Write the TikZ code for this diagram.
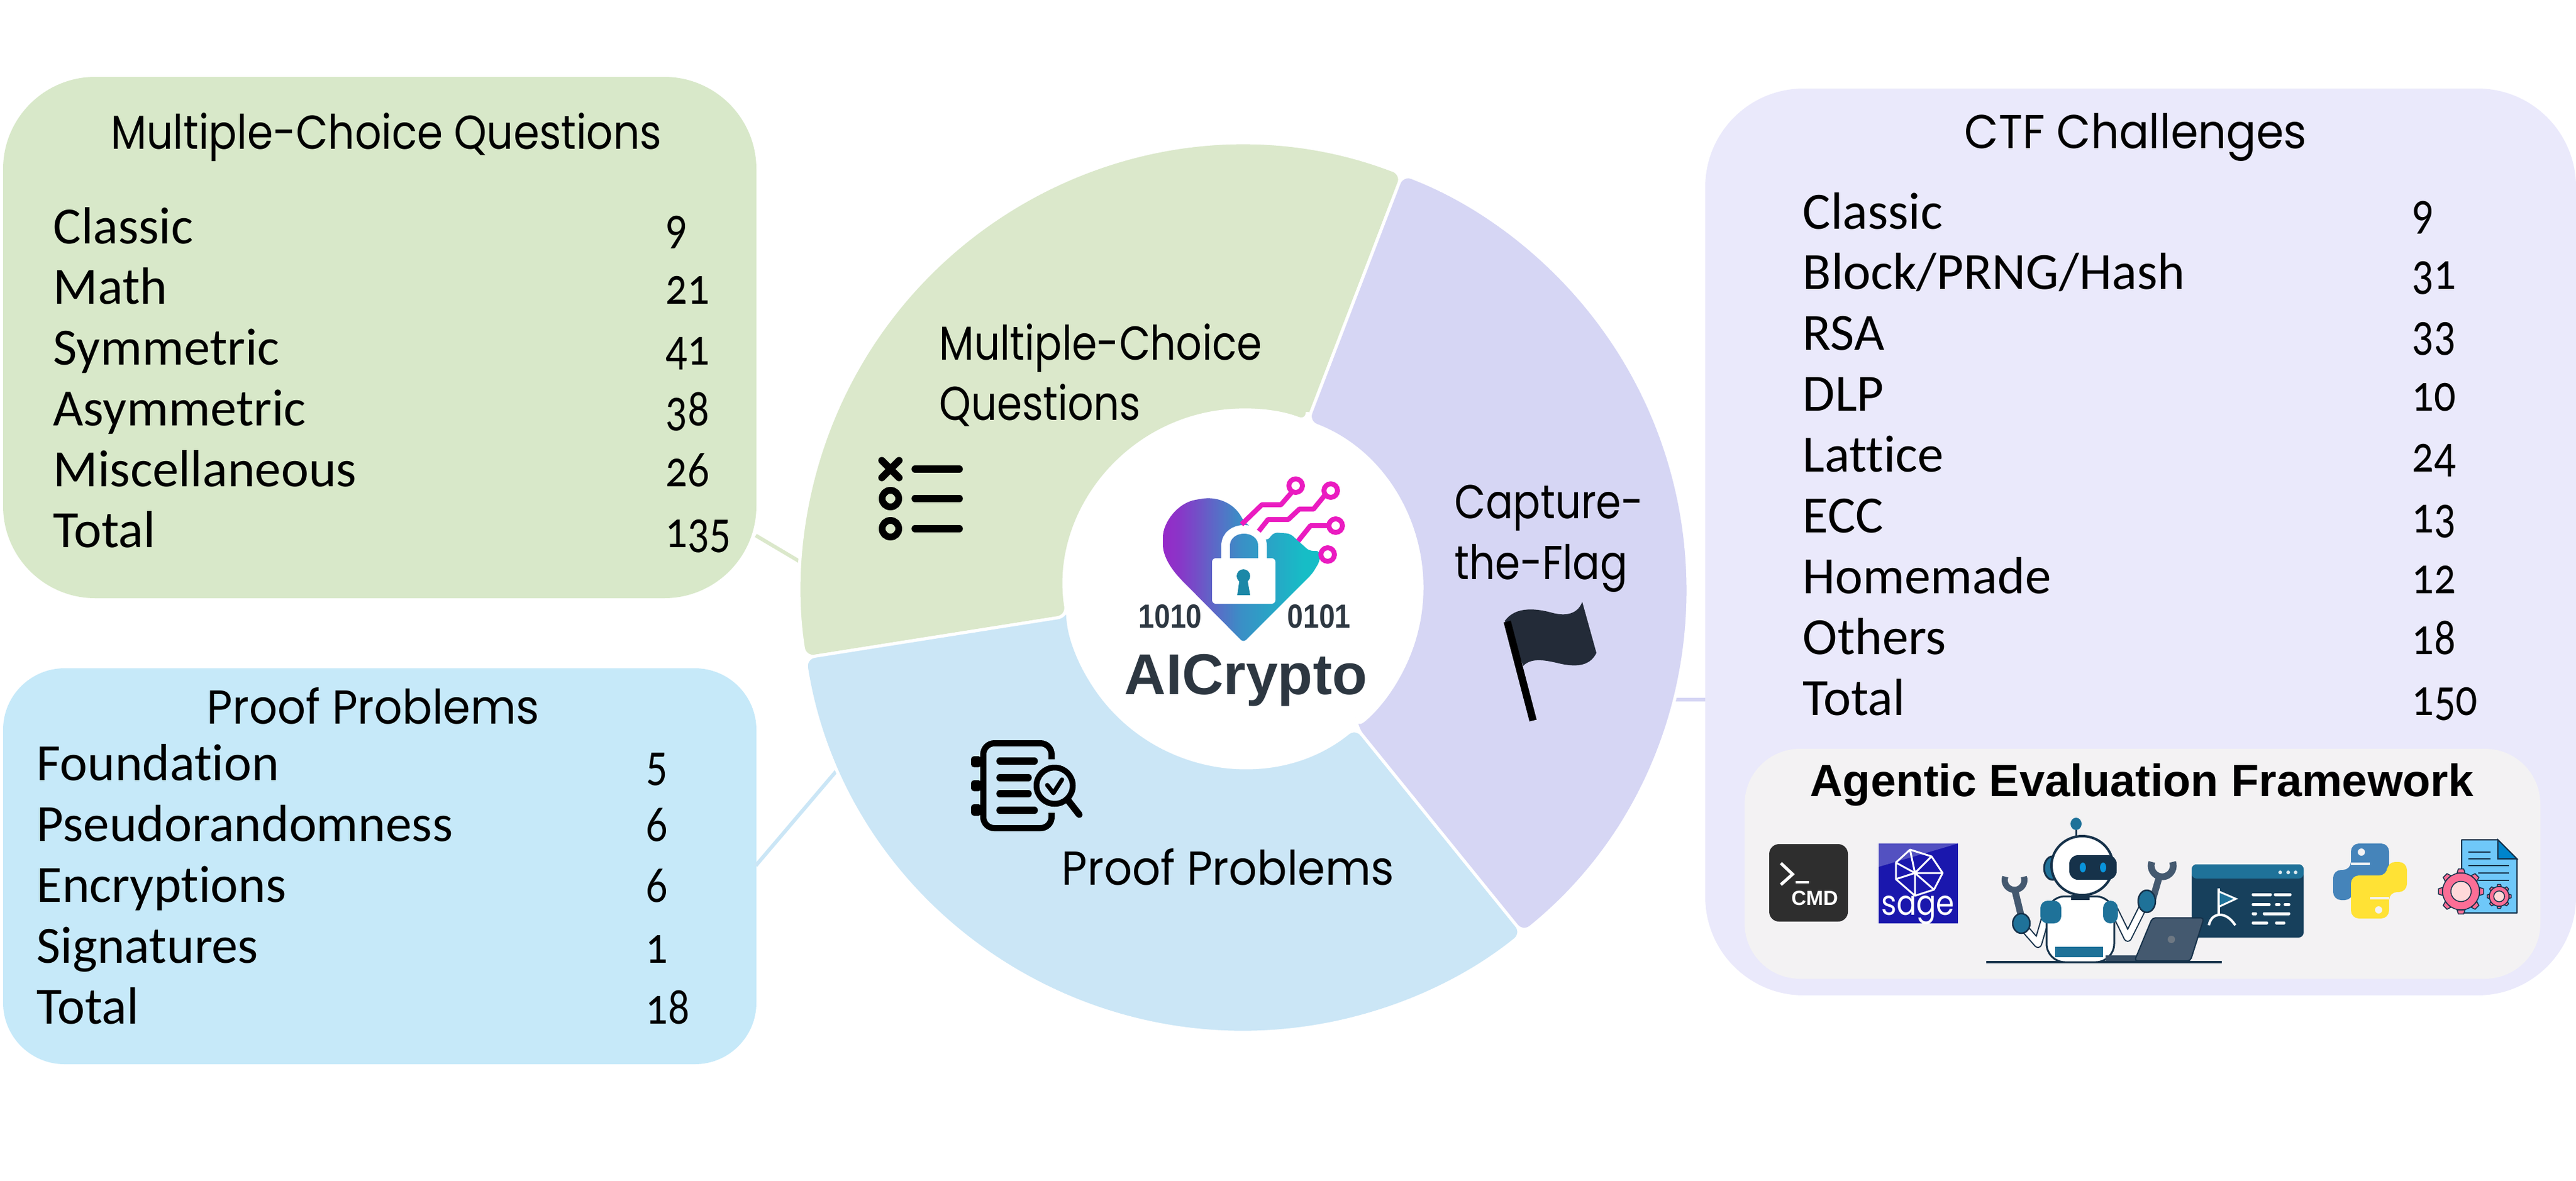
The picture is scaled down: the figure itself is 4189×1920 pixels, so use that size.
\documentclass[tikz,border=0pt]{standalone}
\usepackage{fontspec}
\usetikzlibrary{calc}
\setmainfont{Carlito}[Numbers=OldStyle,Ligatures=NoCommon]
\newfontfamily\numf{Carlito}[Numbers=OldStyle,FakeStretch=0.82]
\newfontfamily\dispa{Poppins}[FakeStretch=0.85]
\newfontfamily\dispb{Poppins}[FakeStretch=0.876]
\newfontfamily\dispc{Poppins}[FakeStretch=0.93]
\newfontfamily\heavy{Liberation Sans Bold}
\newfontfamily\heavyn{Liberation Sans Bold}[FakeStretch=0.85]
\definecolor{secG}{HTML}{DBE8CB}
\definecolor{secB}{HTML}{CBE6F6}
\definecolor{secP}{HTML}{D6D6F4}
\definecolor{boxG}{HTML}{D8E8C9}
\definecolor{boxB}{HTML}{C6E9F9}
\definecolor{boxP}{HTML}{EAE9FB}
\definecolor{boxF}{HTML}{F3F2F3}
\definecolor{inkD}{HTML}{2D3741}
\definecolor{flagD}{HTML}{232B38}
\definecolor{logoA}{HTML}{C006CB}
\definecolor{logoB}{HTML}{8A35C8}
\definecolor{logoM}{HTML}{3A8FC6}
\definecolor{logoC}{HTML}{16BDC6}
\definecolor{wire}{HTML}{EA1BC0}
\definecolor{navy}{HTML}{17405C}
\definecolor{navyD}{HTML}{16324A}
\definecolor{teal}{HTML}{1F7299}
\definecolor{slate}{HTML}{44596F}
\definecolor{pyB}{HTML}{4584BA}
\definecolor{pyY}{HTML}{FFE235}
\definecolor{pageB}{HTML}{6FC8F9}
\definecolor{gearP}{HTML}{FB6E96}
\definecolor{sageB}{HTML}{1A17AD}
\pgfdeclarehorizontalshading{logograd}{100bp}{color(0bp)=(logoA); color(8bp)=(logoA); color(30bp)=(logoB); color(50bp)=(logoM); color(70bp)=(logoC); color(100bp)=(logoC)}
\tikzset{
  bodytxt/.style={anchor=base west,inner sep=0pt,font=\fontsize{24.2}{24.2}\selectfont},
  numtxt/.style={anchor=base west,inner sep=0pt,font=\numf\fontsize{24.2}{24.2}\selectfont},
  disptxt/.style={inner sep=0pt,font=\dispa\fontsize{22}{22}\selectfont},
  disptxtc/.style={inner sep=0pt,font=\dispc\fontsize{22}{22}\selectfont},
  sector/.style={draw=white,line width=0.5mm,rounded corners=1.6mm},
  link/.style={line width=0.6mm},
  stroke/.style={line width=1.15mm,line cap=round},
  wirel/.style={draw=wire,line width=0.8mm,line join=round},
  wirer/.style={draw=wire,line width=0.8mm,fill=white},
  gearbit/.style={fill=gearP,draw=navyD,line width=0.15mm},
}
\begin{document}
\begin{tikzpicture}[x=0.1mm,y=-0.1mm]
\useasboundingbox (0,0) rectangle (4189,1920);

% ---- panels
\node[draw=none,fill=boxG,rounded corners=15mm,minimum width=122.5mm,minimum height=84.8mm,inner sep=0pt] (mcqbox) at (617.5,549) {};
\node[draw=none,fill=boxB,rounded corners=10mm,minimum width=122.5mm,minimum height=64.4mm,inner sep=0pt] (proofbox) at (617.5,1409) {};
\node[draw=none,fill=boxP,rounded corners=16mm,minimum width=141.6mm,minimum height=147.5mm,inner sep=0pt] (ctfbox) at (3481,881.5) {};
\node[draw=none,fill=boxF,rounded corners=9mm,minimum width=129.4mm,minimum height=37.4mm,inner sep=0pt] (agentbox) at (3484,1405) {};

% ---- connectors
\coordinate (gA) at (1229,871); \coordinate (gB) at (1315,922);
\coordinate (bA) at (1229,1408); \coordinate (bB) at (1372,1240);
\coordinate (pA) at (2710,1138); \coordinate (pB) at (2773,1138);
\draw[link,secG] (gA) -- (gB);
\draw[link,secB] (bA) -- (bB);
\draw[link,secP] (pA) -- (pB);

% ---- donut
\coordinate (ctr) at (2022,957);
\fill[secG,sector] ($(ctr)+(-69:290)$) -- ($(ctr)+(-69:722)$) arc[start angle=-69,end angle=-189,radius=722] -- ($(ctr)+(-189:290)$) arc[start angle=-189,end angle=-69,radius=290] -- cycle;
\fill[secB,sector] ($(ctr)+(-189:290)$) -- ($(ctr)+(-189:722)$) arc[start angle=-189,end angle=-309,radius=722] -- ($(ctr)+(-309:290)$) arc[start angle=-309,end angle=-189,radius=290] -- cycle;
\fill[secP,sector] ($(ctr)+(-309:290)$) -- ($(ctr)+(-309:722)$) arc[start angle=-309,end angle=-429,radius=722] -- ($(ctr)+(-429:290)$) arc[start angle=-429,end angle=-309,radius=290] -- cycle;

% ---- sector labels
\node[disptxt,anchor=base west] (l1a) at (1527,585) {Multiple-Choice};
\node[disptxt,anchor=base west] (l1b) at (1527,683) {Questions};
\node[disptxt,anchor=base west] (l2a) at (2365,843) {Capture-};
\node[disptxt,anchor=base west] (l2b) at (2365,942) {the-Flag};
\node[disptxtc,anchor=base west] (l3) at (1726,1439) {Proof Problems};

% ---- list icon
\draw[stroke] (1434,749) -- (1462,777) (1462,749) -- (1434,777);
\draw[stroke] (1488,763) -- (1560,763) (1488,811) -- (1560,811) (1488,860) -- (1560,860);
\draw[line width=1.1mm] (1448,811) circle[radius=13.5] (1448,860) circle[radius=13.5];

% ---- flag icon
\fill[flagD] (2447,1010) .. controls (2465,985) and (2500,990) .. (2525,997) .. controls (2545,1002) and (2565,1000) .. (2573,979) -- (2596,1062) .. controls (2585,1085) and (2560,1085) .. (2535,1079) .. controls (2510,1073) and (2490,1070) .. (2477,1083) -- cycle;
\draw[line width=1.2mm] (2451,1011) -- (2493,1172);

% ---- proof icon
\draw[line width=1mm,line cap=butt,rounded corners=1.8mm] (1710,1235) -- (1710,1209) -- (1599,1209) -- (1599,1347) -- (1710,1347) -- (1710,1322);
\fill[rounded corners=0.5mm] (1579,1230) rectangle (1596,1248) (1579,1269) rectangle (1596,1287) (1579,1308) rectangle (1596,1327);
\draw[stroke] (1626,1238) -- (1682,1238) (1626,1265) -- (1672,1265) (1626,1291) -- (1672,1291) (1626,1318) -- (1682,1318);
\draw[line width=0.95mm] (1715,1278) circle[radius=29.5];
\draw[line width=1.1mm,line cap=round] (1737,1302) -- (1755,1325);
\draw[line width=0.7mm,line join=round,line cap=round] (1703,1277) -- (1713,1290) -- (1727,1268);

% ---- panel tables
\node[inner sep=0pt,font=\dispb\fontsize{22}{22}\selectfont] (t1) at (628,223) {Multiple-Choice Questions};
\foreach \n/\a/\b/\y in {1/Classic/9/396,2/Math/21/494,3/Symmetric/41/593,4/Asymmetric/38/692,5/Miscellaneous/26/791,6/Total/135/890}{
  \node[bodytxt] (gk\n) at (86,\y) {\a};
  \node[numtxt] (gv\n) at (1082,\y) {\b};
}
\node[disptxtc] (t2) at (607,1148) {Proof Problems};
\foreach \n/\a/\b/\y in {1/Foundation/5/1269,2/Pseudorandomness/6/1368,3/Encryptions/6/1467,4/Signatures/1/1566,5/Total/18/1665}{
  \node[bodytxt] (bk\n) at (59,\y) {\a};
  \node[numtxt] (bv\n) at (1050,\y) {\b};
}
\node[disptxtc] (t3) at (3473,223) {CTF Challenges};
\foreach \n/\a/\b/\y in {1/Classic/9/372,2/Block\slash PRNG\slash Hash/31/470,3/RSA/33/569,4/DLP/10/668,5/Lattice/24/767,6/ECC/13/866,7/Homemade/12/965,8/Others/18/1064,9/Total/150/1163}{
  \node[bodytxt] (pk\n) at (2931,\y) {\a};
  \node[numtxt] (pv\n) at (3922,\y) {\b};
}
\node[anchor=base,inner sep=0pt,font=\heavy\fontsize{21}{21}\selectfont] (aef) at (3483,1295) {Agentic Evaluation Framework};

% ---- logo
\shade[shading=logograd,shading angle=0,rounded corners=0.6mm]
  (2022,847) .. controls (2005,815) and (1975,808) .. (1950,812) .. controls (1915,818) and (1891,850) .. (1891,880) .. controls (1891,905) and (1905,925) .. (1919,941) -- (2022,1045) -- (2134,933) -- (2146,913) -- (2146,896) -- (2129,896) -- (2098,868) -- (2072,866) -- (2060,880) -- cycle;
\draw[white,line width=1.4mm] (1993,910) -- (1993,888) .. controls (1993,852) and (2053,852) .. (2053,888) -- (2053,910);
\fill[white,rounded corners=0.6mm] (1971,908) rectangle (2074,982);
\fill[teal!70!logoC] (2022,937) circle[radius=11] (2016,940) -- (2028,940) -- (2033,968) -- (2012,968) -- cycle;
\draw[wirel] (2019,853) -- (2052,821) -- (2083,821) -- (2103,798);
\draw[wirer] (2107,790) circle[radius=11];
\draw[wirel] (2047,864) -- (2062,845) -- (2095,845) -- (2113,828) -- (2136,828) -- (2154,806);
\draw[wirer] (2164,798) circle[radius=11];
\draw[wirel] (2111,880) -- (2131,855) -- (2159,855);
\draw[wirer] (2172,855) circle[radius=11];
\draw[wirer] (2159,902) circle[radius=11];
\node[anchor=base,inner sep=0pt,inkD,font=\heavyn\fontsize{15.5}{15.5}\selectfont] (bits1) at (1903,1021) {1010};
\node[anchor=base,inner sep=0pt,inkD,font=\heavyn\fontsize{15.5}{15.5}\selectfont] (bits2) at (2145,1021) {0101};
\node[anchor=base,inner sep=0pt,inkD,font=\heavy\fontsize{26.6}{26.6}\selectfont] (logotxt) at (2026,1129) {AICrypto};

% ---- cmd icon
\fill[black!82,rounded corners=1.6mm] (2877,1373) rectangle (3005,1499);
\draw[white,line width=0.5mm] (2896,1404) -- (2915,1422) -- (2896,1439);
\draw[white,line width=0.4mm] (2920,1435) -- (2942,1435);
\node[anchor=base,inner sep=0pt,white,font=\heavy\fontsize{9.5}{9.5}\selectfont] (cmdt) at (2951,1472) {CMD};

% ---- sage icon
\fill[sageB] (3055,1372) rectangle (3184,1502);
\fill[white,opacity=0.25] (3055,1372) -- (3184,1372) -- (3055,1410) -- cycle;
\draw[white,line width=0.3mm,line join=round]
  (3106,1382) -- (3141,1393) -- (3159,1420) -- (3145,1447) -- (3114,1457) -- (3083,1430) -- (3083,1403) -- cycle
  (3106,1382) -- (3114,1420) -- (3159,1420) (3083,1403) -- (3114,1420) -- (3083,1430)
  (3114,1420) -- (3145,1447) (3141,1393) -- (3114,1420) (3114,1457) -- (3114,1420);
\node[anchor=base,inner sep=0pt,white,font=\dispa\fontsize{16}{16}\selectfont] (saget) at (3119,1488) {sage};

% ---- robot: desk, arms, body
\draw[navyD,line width=0.4mm] (3230,1565) -- (3613,1565);
\draw[navyD,line width=1.4mm,line join=round] (3330,1480) -- (3314,1535) -- (3285,1502);
\draw[white,line width=1mm,line join=round] (3330,1480) -- (3314,1535) -- (3285,1502);
\draw[navyD,line width=1.4mm,line join=round] (3438,1480) -- (3460,1525) -- (3491,1463);
\draw[white,line width=1mm,line join=round] (3438,1480) -- (3460,1525) -- (3491,1463);
\draw[draw=navyD,fill=white,line width=0.3mm,rounded corners=3mm] (3328,1458) rectangle (3438,1565);
\fill[teal] (3342,1540) rectangle (3420,1557);
\fill[teal,rounded corners=1.2mm] (3318,1465) rectangle (3352,1502);
\fill[teal,rounded corners=1.2mm] (3420,1465) rectangle (3444,1502);
\fill[navyD] (3368,1456) rectangle (3398,1464);
% head
\fill[teal,draw=navyD,line width=0.3mm] (3338,1412) ellipse[x radius=14,y radius=19];
\draw[draw=navyD,fill=white,line width=0.4mm] (3386,1408) ellipse[x radius=50,y radius=48];
\fill[navyD,rounded corners=1.4mm] (3365,1391) rectangle (3442,1431);
\fill[cyan!80!blue] (3387,1411) ellipse[x radius=5,y radius=8] (3420,1411) ellipse[x radius=5,y radius=8];
\draw[navyD,line width=0.3mm] (3376,1350) -- (3376,1360);
\fill[teal] (3376,1340) ellipse[x radius=9,y radius=10];
% wrenches
\draw[slate,line width=1.1mm] (3288,1495) -- (3276,1446);
\draw[slate,line width=1mm] (3291,1426) arc[start angle=-20,end angle=200,radius=16];
\draw[slate,line width=1.1mm] (3500,1465) -- (3512,1424);
\draw[slate,line width=1.1mm] (3533,1402) arc[start angle=-20,end angle=200,radius=18];
\fill[teal,draw=navyD,line width=0.25mm] (3287,1502) ellipse[x radius=14,y radius=16];
\fill[teal,draw=navyD,line width=0.25mm] (3491,1466) ellipse[x radius=14,y radius=18];
% screen
\fill[navy,rounded corners=0.8mm] (3564,1406) rectangle (3746,1525);
\fill[teal,rounded corners=0.8mm] (3564,1406) rectangle (3746,1429);
\fill[white!85!teal] (3708,1419) circle[radius=3] (3721,1419) circle[radius=3] (3733,1419) circle[radius=3];
\draw[white,line width=0.4mm] (3608,1445) -- (3608,1490);
\fill[teal,draw=white,line width=0.3mm] (3608,1450) -- (3636,1462) -- (3608,1475) -- cycle;
\draw[white,line width=0.4mm] (3592,1505) .. controls (3595,1490) and (3605,1488) .. (3610,1488) .. controls (3620,1488) and (3628,1495) .. (3635,1505);
\draw[white,line width=0.5mm,line cap=round] (3664,1455) -- (3692,1455) (3700,1455) -- (3724,1455) (3664,1471) -- (3690,1471) (3702,1471) -- (3706,1471) (3716,1471) -- (3722,1471) (3664,1486) -- (3668,1486) (3682,1486) -- (3722,1486) (3664,1501) -- (3686,1501) (3702,1501) -- (3714,1501);
% laptop
\fill[slate!70!navyD] (3424,1554) rectangle (3475,1563);
\fill[slate,draw=navyD,line width=0.2mm,rounded corners=0.5mm] (3500,1493) -- (3584,1493) -- (3562,1563) -- (3471,1563) -- cycle;
\fill[black!30!slate!70!white] (3531,1528) ellipse[x radius=6,y radius=6];

% ---- python icon
\fill[pyB,rounded corners=1.3mm,even odd rule] (3823,1415) -- (3823,1372) -- (3885,1372) -- (3885,1442) -- (3826,1442) -- (3826,1464) -- (3794,1464) -- (3794,1415) -- cycle (3840,1386) circle[radius=6];
\begin{scope}[rotate around={180:(3854,1433)}]
\fill[pyY,rounded corners=1.3mm,even odd rule] (3823,1415) -- (3823,1372) -- (3885,1372) -- (3885,1442) -- (3826,1442) -- (3826,1464) -- (3794,1464) -- (3794,1415) -- cycle (3840,1386) circle[radius=6];
\end{scope}
\fill[boxF] (3823,1403) rectangle (3854,1407);
\fill[boxF] (3854,1459) rectangle (3885,1463);

% ---- document + gears icon
\fill[pageB,draw=navyD,line width=0.2mm,line join=round] (4003,1366) -- (4062,1366) -- (4093,1397) -- (4093,1485) -- (4003,1485) -- cycle;
\fill[blue!35!cyan!80!black,draw=navyD,line width=0.2mm] (4062,1366) -- (4093,1397) -- (4062,1397) -- cycle;
\draw[navyD,line width=0.2mm] (4014,1386) -- (4050,1386) (4014,1397) -- (4050,1397) (4014,1408) -- (4080,1408) (4030,1420) -- (4080,1420) (4030,1432) -- (4080,1432);
\foreach \cx/\cy/\rr/\tw in {4002/1450/30/13,4064/1458/16/7}{
  \foreach \a in {0,45,...,315}{
    \begin{scope}[shift={(\cx,\cy)},rotate=\a]
      \fill[gearbit] (-\tw/2,-\rr) -- (\tw/2,-\rr) -- (\tw/3,-\rr-0.22*\rr) -- (-\tw/3,-\rr-0.22*\rr) -- cycle;
    \end{scope}
  }
  \fill[gearbit] (\cx,\cy) circle[radius=\rr];
  \fill[pink!60!white,draw=navyD,line width=0.15mm] (\cx,\cy) circle[radius=0.55*\rr];
}
\end{tikzpicture}
\end{document}
